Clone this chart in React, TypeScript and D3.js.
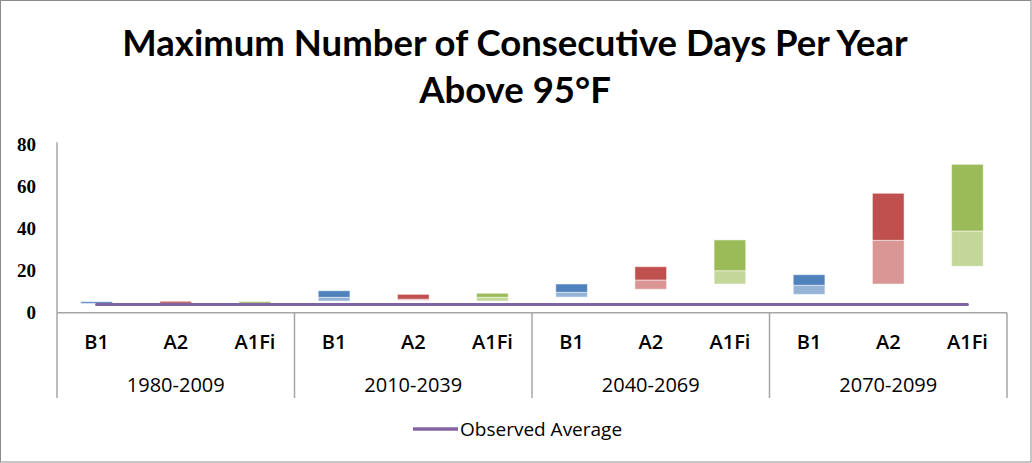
import React from "react";
import * as d3 from "d3";

const periods = ["1980-2009", "2010-2039", "2040-2069", "2070-2099"];
const scenarios = ["B1", "A2", "A1Fi"];
const lowValues = [4.3, 4.4, 4.4, 5.5, 5.9, 5.5, 7.4, 11.1, 13.6, 8.7, 13.6, 22.0];
const midValues = [4.4, 4.5, 4.5, 7.3, 6.4, 7.3, 9.7, 15.5, 19.9, 13.0, 34.3, 38.7];
const highValues = [5.2, 5.4, 5.3, 10.4, 8.7, 9.2, 13.6, 21.8, 34.5, 18.0, 56.6, 70.3];
const observedAverage = [3.9, 3.9, 3.9, 3.9, 3.9, 3.9, 3.9, 3.9, 3.9, 3.9, 3.9, 3.9];
const yTicks = [0, 20, 40, 60, 80];
const titleLines = ["Maximum Number of Consecutive Days Per Year", "Above 95°F"];
const legendLabel = "Observed Average";

const darkColors: Record<string, string> = { B1: "#4F81BD", A2: "#C0504D", A1Fi: "#9BBB59" };
const lightColors: Record<string, string> = { B1: "#95B3D7", A2: "#DA9694", A1Fi: "#C4D79B" };

export default function App() {
  const W = 1032, H = 463;
  const left = 57, right = 1007, y0 = 312.7, yTop = 143.9;
  const cats = periods.flatMap((p) => scenarios.map((s) => ({ p, s, key: p + "|" + s })));
  const x = d3.scaleBand<string>().domain(cats.map((c) => c.key)).range([left, right]).paddingInner(0.6).paddingOuter(0.3);
  const gx = d3.scaleBand<string>().domain(periods).range([left, right]).padding(0);
  const y = d3.scaleLinear().domain([0, 80]).range([y0, yTop]);
  const line = d3.line<number>().x((_, i) => (x(cats[i].key) as number) + x.bandwidth() / 2).y((d) => y(d));
  const axisColor = "#A6A6A6";
  const font = "'Open Sans', sans-serif";
  return (
    <svg width={W} height={H} style={{ position: "absolute", left: 0, top: 0, background: "#fff" }}>
      <rect x={0.5} y={0.5} width={W - 1.5} height={H - 1.5} fill="#fff" stroke="#8C8C8C" strokeWidth={1} />
      {titleLines.map((t, i) => (
        <text key={t} x={515} y={56 + i * 47} textAnchor="middle" fontFamily="Lato, sans-serif" fontWeight="bold" fontSize={36.5} fill="#000">{t}</text>
      ))}
      {/* y axis */}
      <line x1={left} x2={left} y1={142.3} y2={y0} stroke={axisColor} strokeWidth={1.5} />
      {yTicks.map((t) => (
        <text key={t} x={36} y={y(t)} dy="0.35em" textAnchor="end" fontFamily="'Liberation Serif', serif" fontWeight="bold" fontSize={19} fill="#000">{t}</text>
      ))}
      {/* bars */}
      {cats.map((c, i) => {
        const bx = x(c.key) as number;
        const bw = x.bandwidth();
        return (
          <g key={c.key}>
            <rect x={bx} y={y(midValues[i])} width={bw} height={y(lowValues[i]) - y(midValues[i])} fill={lightColors[c.s]} stroke="#fff" strokeOpacity={0.5} strokeWidth={1} />
            <rect x={bx} y={y(highValues[i])} width={bw} height={y(midValues[i]) - y(highValues[i])} fill={darkColors[c.s]} stroke="#fff" strokeOpacity={0.5} strokeWidth={1} />
          </g>
        );
      })}
      <path d={line(observedAverage) || ""} fill="none" stroke="#8064A2" strokeWidth={3} strokeLinecap="round" />
      {/* x axis */}
      <line x1={left} x2={right} y1={y0} y2={y0} stroke={axisColor} strokeWidth={1.5} />
      {[...periods.map((p) => gx(p) as number), right].map((bx, i) => (
        <line key={i} x1={bx} x2={bx} y1={y0} y2={398} stroke={axisColor} strokeWidth={1.5} />
      ))}
      {cats.map((c) => (
        <text key={c.key} x={(x(c.key) as number) + x.bandwidth() / 2} y={341.7} dy="0.35em" textAnchor="middle" fontFamily={font} fontWeight={600} fontSize={20} fill="#000">{c.s}</text>
      ))}
      {periods.map((p) => (
        <text key={p} x={(gx(p) as number) + gx.bandwidth() / 2} y={385} dy="0.35em" textAnchor="middle" fontFamily={font} fontSize={20} fill="#000">{p}</text>
      ))}
      {/* legend */}
      <line x1={413} x2={458} y1={429} y2={429} stroke="#8064A2" strokeWidth={3.5} />
      <text x={460} y={429} dy="0.35em" fontFamily={font} fontSize={19} fill="#000">{legendLabel}</text>
    </svg>
  );
}
